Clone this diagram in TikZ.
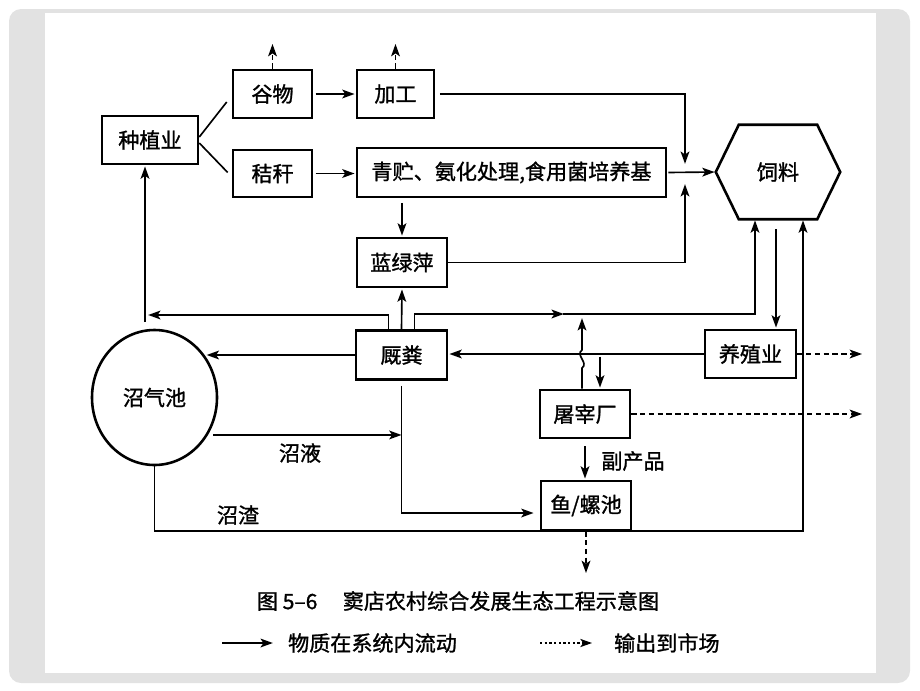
\documentclass[tikz,border=0pt]{standalone}
\usepackage{fontspec}
\newfontfamily\cjk{Noto Sans CJK SC}[FakeBold=1.2]
\usetikzlibrary{arrows.meta,calc,shapes.geometric}
\newcommand\pxu{0.03cm}
\definecolor{framegray}{HTML}{E2E2E2}
\tikzset{
  cjktext/.style={font=\cjk\fontsize{18}{21}\selectfont},
  cbox/.style={draw, line width=2.2pt, inner sep=0pt, cjktext, align=center},
  flowline/.style={line width=1.4pt, -{Stealth[length=10.5pt,width=7.5pt,inset=2.5pt]}, shorten >=1pt},
  plainline/.style={line width=1.4pt},
  mktline/.style={line width=1.4pt, dash pattern=on 4.5pt off 3pt, -{Stealth[length=10.5pt,width=7.5pt,inset=2.5pt]}},
  mktdotted/.style={line width=1.1pt, dash pattern=on 2pt off 2pt, -{Stealth[length=10pt,width=7pt,inset=2.5pt]}},
}
\begin{document}
\begin{tikzpicture}[x=\pxu,y=-\pxu]
\useasboundingbox (0,0) rectangle (920,690);
\fill[framegray, rounded corners=3.6mm] (9,9) rectangle (910,683);
\fill[white] (45,12.5) rectangle (876,673);

% boxes
\node[cbox, minimum width=96*\pxu, minimum height=48*\pxu] (zhong) at (150,140) {种植业};
\node[cbox, minimum width=79*\pxu, minimum height=48*\pxu] (gu) at (272.5,94) {谷物};
\node[cbox, minimum width=77*\pxu, minimum height=48*\pxu] (jia) at (395.5,94) {加工};
\node[cbox, minimum width=79*\pxu, minimum height=47*\pxu] (jie) at (272.5,173.5) {秸秆};
\node[cbox, minimum width=309*\pxu, minimum height=49*\pxu] (qing) at (511.5,172.5) {青贮、氨化处理,食用菌培养基};
\node[cbox, minimum width=90*\pxu, minimum height=49*\pxu] (lan) at (402,262.5) {蓝绿萍};
\node[cjktext, minimum width=124*\pxu, minimum height=94*\pxu, inner sep=0pt] (siliao) at (778,172) {饲料};
\draw[line width=2.2pt, line join=miter] (siliao.west) -- ($(siliao.north west)+(23,0)$) -- ($(siliao.north east)+(-23,0)$) -- (siliao.east) -- ($(siliao.south east)+(-23,0)$) -- ($(siliao.south west)+(23,0)$) -- cycle;
\node[cbox, minimum width=91*\pxu, minimum height=49*\pxu] (jiufen) at (401.5,355) {厩粪};
\node[cbox, shape=ellipse, minimum width=125*\pxu, minimum height=135*\pxu] (zhaoqi) at (154.5,397.5) {沼气池};
\node[cbox, minimum width=91*\pxu, minimum height=48*\pxu] (yangzhi) at (750.5,354) {养殖业};
\node[cbox, minimum width=90*\pxu, minimum height=48*\pxu] (tuzai) at (585,414) {屠宰厂};
\node[cbox, minimum width=90*\pxu, minimum height=49*\pxu] (yu) at (586,505.5) {鱼/螺池};

% labels
\node[cjktext] (lzy) at (300,453) {沼液};
\node[cjktext] (lzz) at (238,515) {沼渣};
\node[cjktext] (lfc) at (633,461) {副产品};

% top part
\draw[plainline] ($(zhong.east)+(0,-3)$) -- ($(gu.west)+(-5,8)$);
\draw[plainline] ($(zhong.east)+(0,3)$) -- ($(jie.west)+(-4,-1)$);
\draw[flowline, shorten <=2pt] (gu.east) -- (jia.west);
\draw[flowline, shorten <=2pt] (jie.east) -- (jie.east -| qing.west);
\coordinate (m) at (685,172);
\draw[flowline, shorten <=1pt] (qing.east) -- (siliao.west);
\draw[flowline, shorten <=4pt] (jia.east) -| ($(m)+(0,-7)$);
\draw[flowline] (lan.east) -| ($(m)+(0,11)$);
\draw[flowline, shorten <=4pt] (qing.south -| lan.north) -- (lan.north);
\draw[flowline] (jiufen.north) -- (lan.south);

% manure branches
\coordinate (kl) at (145,322);
\draw[flowline] (kl) -- (kl |- zhong.south);
\draw[flowline] ($(jiufen.north)+(-13,0)$) |- ($(kl)+(2,-7)$);
\coordinate (rr) at (755,314);
\draw[flowline] ($(jiufen.north)+(13,0)$) |- ($(rr)+(-190,0)$);
\draw[flowline] ($(rr)+(-192,0)$) -- (rr) -- (rr |- siliao.south);

% slaughterhouse links
\coordinate (w) at (582,359);
\draw[flowline] ($(tuzai.north)+(-3,0)$) -- ($(w)+(0,9)$) .. controls ($(w)+(7,4)$) and ($(w)+(-7,-4)$) .. ($(w)+(0,-9)$) -- ($(w)+(0,-42)$);
\draw[flowline] ($(tuzai.north)+(15,-32)$) -- ($(tuzai.north)+(15,0)$);
\draw[flowline] (yangzhi.west) -- (yangzhi.west -| jiufen.east);
\draw[flowline] (jiufen.west) -- (jiufen.west -| zhaoqi.39);
\coordinate (zyS) at ($(zhaoqi.-35)+(5,0)$);
\draw[flowline, shorten >=0pt] (zyS) -- (zyS -| jiufen.south);
\draw[flowline] ($(jiufen.south)+(0,5)$) |- ($(yu.west)+(-5,7.5)$);
\draw[flowline] (zhaoqi.south) |- (yu.south) -| ($(siliao.south)+(25,0)$);
\draw[flowline] ($(siliao.south)+(-2,10)$) coordinate (s1) -- (s1 |- yangzhi.north);
\draw[flowline, shorten <=6pt] (tuzai.south) -- (tuzai.south |- yu.north);

% market outputs
\coordinate (o1) at (272.5,44);
\coordinate (o2) at (395.5,44);
\coordinate (o3) at (862,354);
\coordinate (o4) at (862,414);
\coordinate (o5) at (586,573);
\draw[mktline] (gu.north) -- (o1);
\draw[mktline] (jia.north) -- (o2);
\draw[mktline] (yangzhi.east) -- (o3);
\draw[mktline] (tuzai.east) -- (o4);
\draw[mktline] (yu.south) -- (o5);

% caption and legend
\node[cjktext] (cap) at (458,601) {图 5–6\hspace{1.2em}窦店农村综合发展生态工程示意图};
\coordinate (la) at (222,643);
\coordinate (lb) at (274,643);
\draw[flowline] (la) -- (lb);
\node[cjktext, anchor=west] (lt1) at (284,643) {物质在系统内流动};
\coordinate (lc) at (540,643);
\coordinate (ld) at (592,643);
\draw[mktdotted] (lc) -- (ld);
\node[cjktext, anchor=west] (lt2) at (610,643) {输出到市场};
\end{tikzpicture}
\end{document}
